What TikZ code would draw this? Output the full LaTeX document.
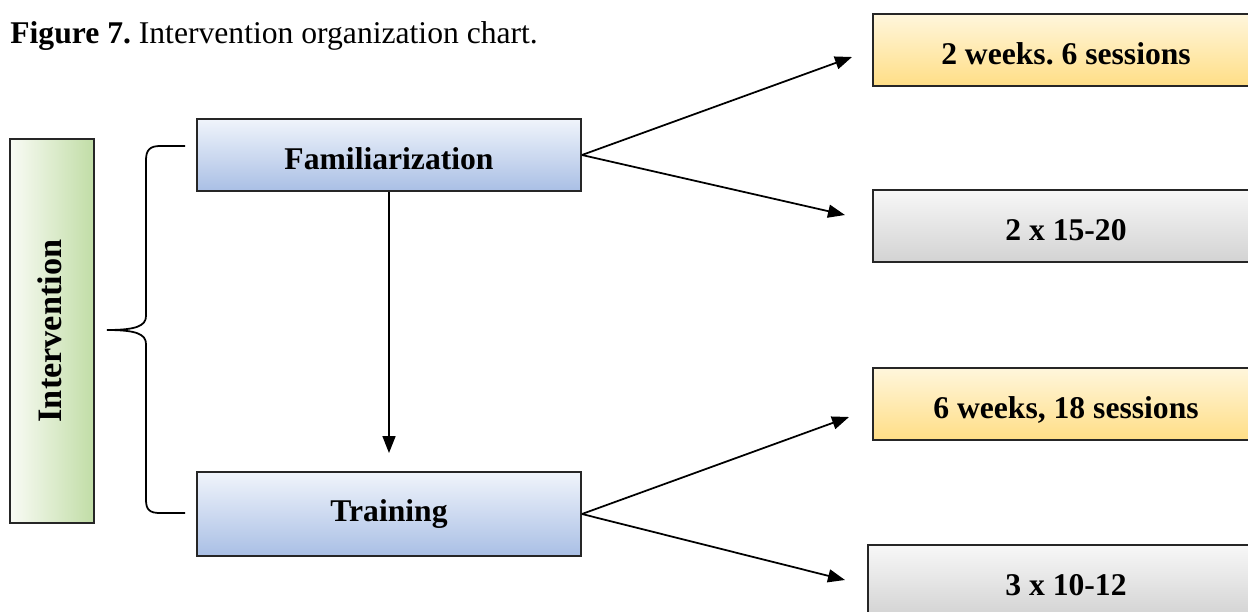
\documentclass[tikz,border=0pt]{standalone}
\usepackage{fontspec}
\setmainfont{Liberation Serif}
\usepackage{graphicx}
\usetikzlibrary{arrows.meta}
\frenchspacing

\definecolor{bluetop}{HTML}{F0F4FB}
\definecolor{bluebot}{HTML}{A9BFE5}
\definecolor{goldtop}{HTML}{FFF6DC}
\definecolor{goldbot}{HTML}{FFDE86}
\definecolor{greytop}{HTML}{F7F7F7}
\definecolor{greybot}{HTML}{D3D3D3}
\definecolor{greenleft}{HTML}{F9FBF5}
\definecolor{greenright}{HTML}{C1DDA6}

\tikzset{
  boxbase/.style={draw=black!85, line width=1.1pt, inner sep=0pt,
    font=\fontsize{18}{21}\selectfont\bfseries},
  lowtext/.style={text height=0.7cm, text depth=0.12cm},
  phasebox/.style={boxbase, top color=bluetop, bottom color=bluebot,
    minimum width=7.68cm},
  goldbox/.style={boxbase, lowtext, top color=goldtop, bottom color=goldbot,
    minimum width=7.72cm, minimum height=1.44cm},
  greybox/.style={boxbase, lowtext, top color=greytop, bottom color=greybot,
    minimum width=7.72cm, minimum height=1.44cm},
  link/.style={line width=1pt, -{Triangle[length=0.34cm, width=0.26cm]}},
}

\begin{document}
\begin{tikzpicture}[x=0.02cm, y=-0.02cm]
  \clip (0,0) rectangle (1248,612);
  \fill[white] (0,0) rectangle (1248,612);

  % caption
  \node[anchor=base west, inner sep=0pt, font=\fontsize{18}{21}\selectfont] (cap) at (10,43)
    {\textbf{Figure 7.} Intervention organization chart.};

  % left column
  \node[boxbase, left color=greenleft, right color=greenright,
        font=\fontsize{19.5}{22}\selectfont\bfseries,
        minimum width=1.68cm, minimum height=7.68cm] (int) at (52,331)
    {\rotatebox{90}{Intervention}\kern0.1cm};

  % phases
  \node[phasebox, lowtext, minimum height=1.44cm] (fam) at (389,155) {Familiarization};
  \node[phasebox, minimum height=1.68cm] (trn) at (389,514) {Training};

  % details
  \node[goldbox] (fw) at (1066,50)  {2 weeks. 6 sessions};
  \node[greybox] (fr) at (1066,226) {2 x 15-20};
  \node[goldbox] (tw) at (1066,404) {6 weeks, 18 sessions};
  \node[greybox, minimum width=7.92cm] (tr) at (1066,581) {3 x 10-12};

  % brace grouping the two phases
  \draw[line width=1pt]
    (185,146) -- (160,146) .. controls (150,146) and (146,150) .. (146,160)
    -- (146,316) .. controls (146,326) and (136,330) .. (107,330)
    .. controls (136,330) and (146,334) .. (146,344)
    -- (146,500) .. controls (146,510) and (150,513) .. (160,513) -- (185,513);

  % arrow end points
  \coordinate (fwtip) at (852,57);
  \coordinate (frtip) at (845,215);
  \coordinate (twtip) at (849,417);
  \coordinate (trtip) at (845,580);
  \coordinate (trntip) at (389,453);

  \draw[link] (fam.east) -- (fwtip);
  \draw[link] (fam.east) -- (frtip);
  \draw[link] (trn.east) -- (twtip);
  \draw[link] (trn.east) -- (trtip);
  \draw[link] (fam.south) -- (trntip);
\end{tikzpicture}
\end{document}
